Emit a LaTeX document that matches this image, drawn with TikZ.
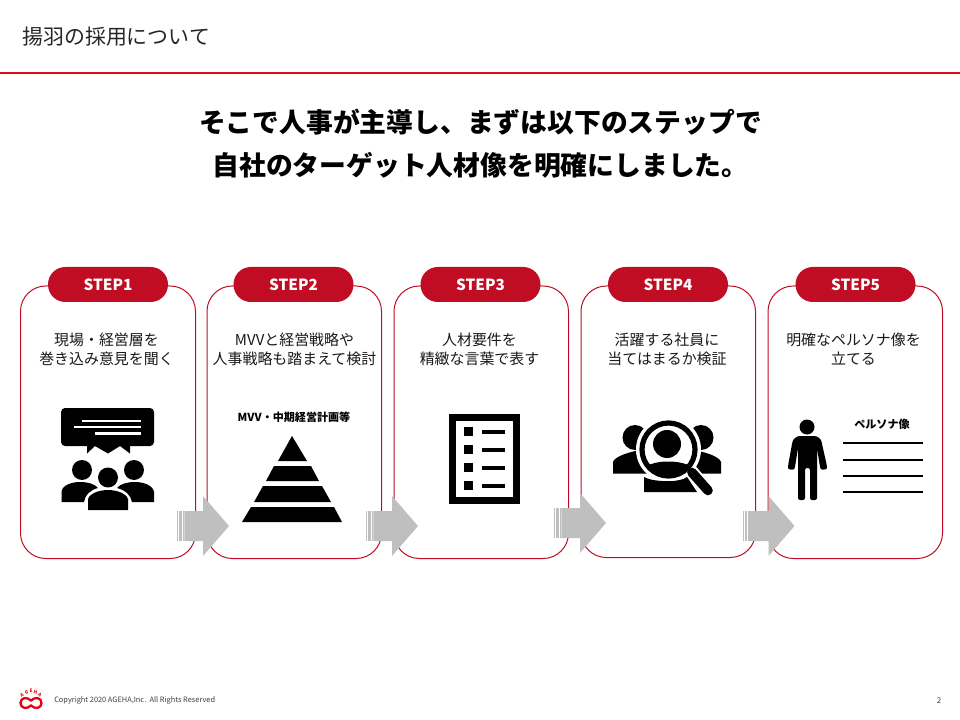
\documentclass[tikz,border=0pt]{standalone}
\usepackage{fontspec}
\setmainfont{Noto Sans CJK JP}
\definecolor{agred}{HTML}{C00D23}
\definecolor{agline}{HTML}{D8101E}
\definecolor{aggray}{HTML}{BFBFBF}
\definecolor{aglogo}{HTML}{E60012}
\tikzset{
  cardbox/.style={draw=agred,line width=0.75pt,fill=white,rounded corners=19pt},
  pillbox/.style={fill=agred,rounded corners=13pt},
  steplabel/.style={text=white,font=\fontsize{11.5}{14}\selectfont\bfseries,inner sep=0pt},
  cardtext/.style={font=\fontsize{11.2}{14.2}\selectfont,align=center,inner sep=0pt,text=black!90},
  smallhead/.style={font=\fontsize{8.3}{10}\selectfont\bfseries,inner sep=0pt},
  headline/.style={inner sep=0pt,font=\fontsize{20.1}{24}\selectfont\bfseries},
}
\newcommand{\grayarrow}[2]{%
  \fill[aggray] (#1,#2-15) rectangle ++(1.4,30);
  \fill[aggray] (#1+2.2,#2-15) rectangle ++(2.6,30);
  \fill[aggray] (#1+5.6,#2-15) rectangle ++(1.4,30);
  \fill[aggray] (#1+7.4,#2-15) -- (#1+26,#2-15) -- (#1+26,#2-30) -- (#1+52,#2) -- (#1+26,#2+30) -- (#1+26,#2+15) -- (#1+7.4,#2+15) -- cycle;
}
\begin{document}
\begin{tikzpicture}[x=0.75pt,y=-0.75pt]
\useasboundingbox (0,0) rectangle (960,720);
\fill[white] (0,0) rectangle (960,720);
% header
\node[anchor=west,inner sep=0pt,font=\fontsize{15.7}{18}\selectfont,text=black!85] (title) at (22,37) {揚羽の採用について};
\coordinate (hl) at (0,73); \coordinate (hr) at (960,73);
\draw[agline,line width=1.5pt] (hl) -- (hr);
\node[headline] (h1) at (480.5,122) {そこで人事が主導し、まずは以下のステップで};
\node[headline] (h2) at (480.5,165) {自社のターゲット人材像を明確にしました。};
% cards
\draw[cardbox] (20.5,286) rectangle (195.5,558.5);
\draw[cardbox] (207,286) rectangle (381.5,558.5);
\draw[cardbox] (394,286) rectangle (568.5,558.5);
\draw[cardbox] (581,286) rectangle (755.5,557.5);
\draw[cardbox] (768,286) rectangle (942.5,558.5);
% pills
\foreach \cx/\lab in {108/STEP1,293.5/STEP2,480.5/STEP3,668/STEP4,855.5/STEP5}{
  \fill[pillbox] (\cx-60,267) rectangle (\cx+60,302);
  \node[steplabel] (\lab) at (\cx,284.5) {\lab};
}
% card text
\node[cardtext] (t1) at (106.5,349.5) {現場・経営層を\\巻き込み意見を聞く};
\node[cardtext] (t2) at (294.5,349.5) {MVVと経営戦略や\\人事戦略も踏まえて検討};
\node[cardtext] (t3) at (479.5,349.5) {人材要件を\\精緻な言葉で表す};
\node[cardtext] (t4) at (667,349.5) {活躍する社員に\\当てはまるか検証};
\node[cardtext] (t5) at (853.5,349.5) {明確なペルソナ像を\\立てる};
% icon 1
\fill[black,rounded corners=3pt] (61,408) rectangle (154,446);
\fill[black] (87,445) -- (87,453.5) -- (95,446) -- (108,453.5) -- (120,446) -- (130,453.5) -- (130,445) -- cycle;
\draw[white,line width=1.9pt] (82,421) -- (141,421) (74,427.2) -- (141,427.2) (95,433.5) -- (141,433.5);
\fill[black] (82,470) circle (10) (134,470) circle (10);
\fill[black] (61.5,502) -- (61.5,492) .. controls (62,485) and (72,482) .. (80,482) .. controls (88,482) and (95,484) .. (98,488) .. controls (90,490) and (85,495) .. (84,502) -- cycle;
\fill[black] (154,502) -- (154,492) .. controls (153,485) and (143,482) .. (135,482) .. controls (127,482) and (120,484) .. (117,488) .. controls (125,490) and (131,495) .. (132,502) -- cycle;
\fill[black] (108,477.5) circle (10);
\fill[black] (88,510) -- (88,499) .. controls (90,493) and (100,490) .. (108,490) .. controls (116,490) and (126,493) .. (128,499) -- (128,510) -- cycle;
% icon 2
\node[smallhead] (mvv) at (294,417.5) {MVV・中期経営計画等};
\fill[black] (292,436) -- (307,461) -- (278,461) -- cycle;
\fill[black] (274,466) -- (311,466) -- (319,481) -- (266,481) -- cycle;
\fill[black] (263,486) -- (322,486) -- (331,502) -- (254,502) -- cycle;
\fill[black] (251,507) -- (334,507) -- (342,522) -- (242,522) -- cycle;
% icon 3
\draw[black,line width=5.25pt] (452.5,417.5) rectangle (516.5,500.5);
\foreach \yy in {427,445,463,481}{
  \fill[black] (464,\yy) rectangle (473,\yy+9);
  \fill[black] (482,\yy+3) rectangle (505,\yy+7);
}
% icon 4
\fill[black] (635,437.5) circle (12.5) (701,437.5) circle (12.5);
\fill[black] (613,473.5) -- (613,462) .. controls (615,456) and (630,452) .. (640,450) -- (660,473.5) -- cycle;
\fill[black] (721,473.5) -- (721,462) .. controls (719,456) and (704,452) .. (694,450) -- (674,473.5) -- cycle;
\fill[white] (668.5,449.5) circle (32.5);
\draw[white,line width=10pt,line cap=round] (690,470) -- (709,492);
\fill[black] (644,492) -- (644,477) .. controls (652,482) and (680,483) .. (687,477) -- (697,492) -- cycle;
\fill[white] (668.5,449.5) circle (31.5);
\draw[white,line width=9.5pt,line cap=round] (691,471) -- (708.5,490.5);
\begin{scope}
\clip (668.5,449.5) circle (26);
\fill[black] (667,444) circle (14);
\fill[black] (638,484) -- (641,469) .. controls (650,463) and (660,461.5) .. (668,461.5) .. controls (677,461.5) and (687,463) .. (696,469) -- (699,484) -- cycle;
\end{scope}
\draw[black,line width=3.9pt] (668.5,449.5) circle (26.5);
\draw[black,line width=7.2pt,line cap=round] (692,472.5) -- (708,490.5);
% icon 5
\fill[black] (807,427) circle (7.5);
\fill[black,rounded corners=1.5pt] (798,500) -- (798,448) -- (795,467) .. controls (794,470) and (788,470) .. (788,466) -- (792,444) .. controls (793,439) and (797,436) .. (802,436) -- (812,436) .. controls (818,436) and (821,439) .. (822,444) -- (827,466) .. controls (827,470) and (821,470) .. (820,467) -- (817,448) -- (817,500) -- (810,500) -- (810,468) -- (805,468) -- (805,500) -- cycle;
\node[smallhead] (persona) at (882,424.5) {ペルソナ像};
\foreach \yy in {443,460,476,492}{\fill[black] (843,\yy-1) rectangle (923,\yy+1);}
% arrows
\grayarrow{177}{526}
\grayarrow{366}{526}
\grayarrow{554}{523}
\grayarrow{742.5}{526}
% footer
\draw[aglogo,line width=1.7pt] (31,700.5) .. controls (27,696.5) and (20.5,697.5) .. (20.5,703) .. controls (20.5,708.5) and (27,709.5) .. (31,705.5) .. controls (35,709.5) and (41.5,708.5) .. (41.5,703) .. controls (41.5,697.5) and (35,696.5) .. (31,700.5) -- cycle;
\foreach \lx/\ly/\rot/\ch in {22/695/35/A,26.5/692/15/G,31/691/0/E,35.5/692/-15/H,40/695/-35/A}{
  \node[text=aglogo,inner sep=0pt,rotate=\rot,font=\fontsize{3.5}{4}\selectfont\bfseries] at (\lx,\ly) {\ch};
}
\node[anchor=west,inner sep=0pt,font=\fontsize{5.55}{6}\selectfont,text=black!75] (copy) at (54,700) {Copyright 2020 AGEHA,Inc.\ \ All Rights Reserved};
\node[inner sep=0pt,font=\fontsize{6}{7}\selectfont,text=black!75] (pg) at (939,700.5) {2};
\end{tikzpicture}
\end{document}
